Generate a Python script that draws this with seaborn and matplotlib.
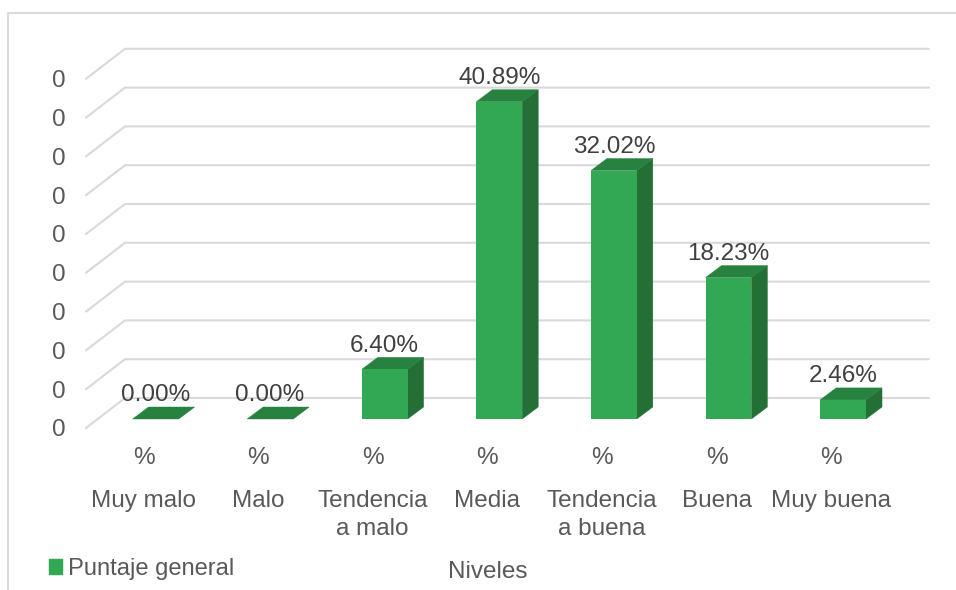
import matplotlib
matplotlib.use("Agg")
import matplotlib.pyplot as plt
from matplotlib.lines import Line2D
from matplotlib.patches import Patch, Polygon
import pandas as pd
import seaborn as sns

niveles = ["Muy malo", "Malo", "Tendencia\na malo", "Media", "Tendencia\na buena", "Buena", "Muy buena"]
puntaje = [0.00, 0.00, 6.40, 40.89, 32.02, 18.23, 2.46]
etiquetas = ["0.00%", "0.00%", "6.40%", "40.89%", "32.02%", "18.23%", "2.46%"]
grid_vals = [0, 5, 10, 15, 20, 25, 30, 35, 40, 45]

FRONT = "#32a854"
TOP = "#27813f"
SIDE = "#236f36"
GRID = "#d9d9d9"
TXT = "#595959"
LABEL = "#404040"
FS = 17.5

W, H = 956, 590
PX_X = 114.6   # pixels per category
PX_Y = 7.76    # pixels per percent point

sns.set_theme(style="white")
plt.rcParams["font.family"] = ["Liberation Sans", "DejaVu Sans"]

fig = plt.figure(figsize=(W / 100, H / 100), dpi=100, facecolor="white")
# plot area in pixels: x 86-929, y 49-428
ax = fig.add_axes([86 / W, 1 - 428 / H, (929 - 86) / W, (428 - 49) / H])
ax.patch.set_alpha(0)

df = pd.DataFrame({"nivel": niveles, "pct": puntaje})
sns.barplot(data=df, x="nivel", y="pct", color=FRONT, saturation=1, width=0.4, ax=ax, zorder=3, linewidth=0)

x0 = -69.5 / PX_X
ax.set_xlim(x0, x0 + (929 - 86) / PX_X)
ax.set_ylim(-9 / PX_Y, (419 - 49) / PX_Y)

# wall offset (side wall depth) and bar depth, in data units
wall_dx, wall_dy = 39 / PX_X, 30 / PX_Y
bar_dx, bar_dy = 16 / PX_X, 12 / PX_Y
front_y0 = -9 / PX_Y
xmax = ax.get_xlim()[1]

for g in grid_vals:
    yf = front_y0 + g
    ax.plot([x0, x0 + wall_dx, xmax], [yf, yf + wall_dy, yf + wall_dy], color=GRID, lw=1.5, zorder=1, clip_on=False)

for bar in ax.patches[:len(puntaje)]:
    l, r, t = bar.get_x(), bar.get_x() + bar.get_width(), bar.get_height()
    ax.add_patch(Polygon([(r, 0), (r + bar_dx, bar_dy), (r + bar_dx, t + bar_dy), (r, t)], fc=SIDE, ec=SIDE, lw=0.3, zorder=2.9, clip_on=False))
    ax.add_patch(Polygon([(l, t), (l + bar_dx, t + bar_dy), (r + bar_dx, t + bar_dy), (r, t)], fc=TOP, ec=TOP, lw=0.3, zorder=2.9, clip_on=False))

for i, v in enumerate(puntaje):
    ax.annotate(etiquetas[i], (i, v), xytext=(0, 17), textcoords="offset points", ha="center", va="center",
                fontsize=FS, color=LABEL, zorder=5, annotation_clip=False)

# the labels sit left of the bars, like in the original
shift = 12 / PX_X
ax.set_xticks([i - shift for i in range(len(niveles))])
ax.set_xticklabels(niveles, fontsize=FS, color=TXT, linespacing=1.36)
ax.set_yticks([front_y0 + g for g in grid_vals])
ax.set_yticklabels(["0"] * len(grid_vals), fontsize=FS, color=TXT, va="center_baseline")
ax.tick_params(axis="x", length=0, pad=44.7)
ax.tick_params(axis="y", length=0, pad=15)
ax.set_ylabel("")
sns.despine(ax=ax, left=True, bottom=True)

for i in range(len(niveles)):
    ax.text(i - shift, -(457.5 - 428) / (428 - 49), "%", transform=ax.get_xaxis_transform(), fontsize=FS, color=TXT,
            ha="center", va="center", clip_on=False)

ax.set_xlabel("Niveles", fontsize=FS, color=TXT, va="center")
ax.xaxis.set_label_coords((488 - 86) / (929 - 86), -(572 - 428) / (428 - 49))

fig.legend(handles=[Patch(color=FRONT, label="Puntaje general")], loc="center left",
           bbox_to_anchor=(49 / W, 1 - 569 / H), frameon=False, fontsize=17.1, labelcolor=TXT,
           borderpad=0, borderaxespad=0, handlelength=0.55, handleheight=0.55, handletextpad=0.24)

# outer chart frame
fig.add_artist(Line2D([8 / W, 8 / W, 1], [0, 1 - 13 / H, 1 - 13 / H], color=GRID, lw=1.4))

fig.savefig("out.png", dpi=100)
